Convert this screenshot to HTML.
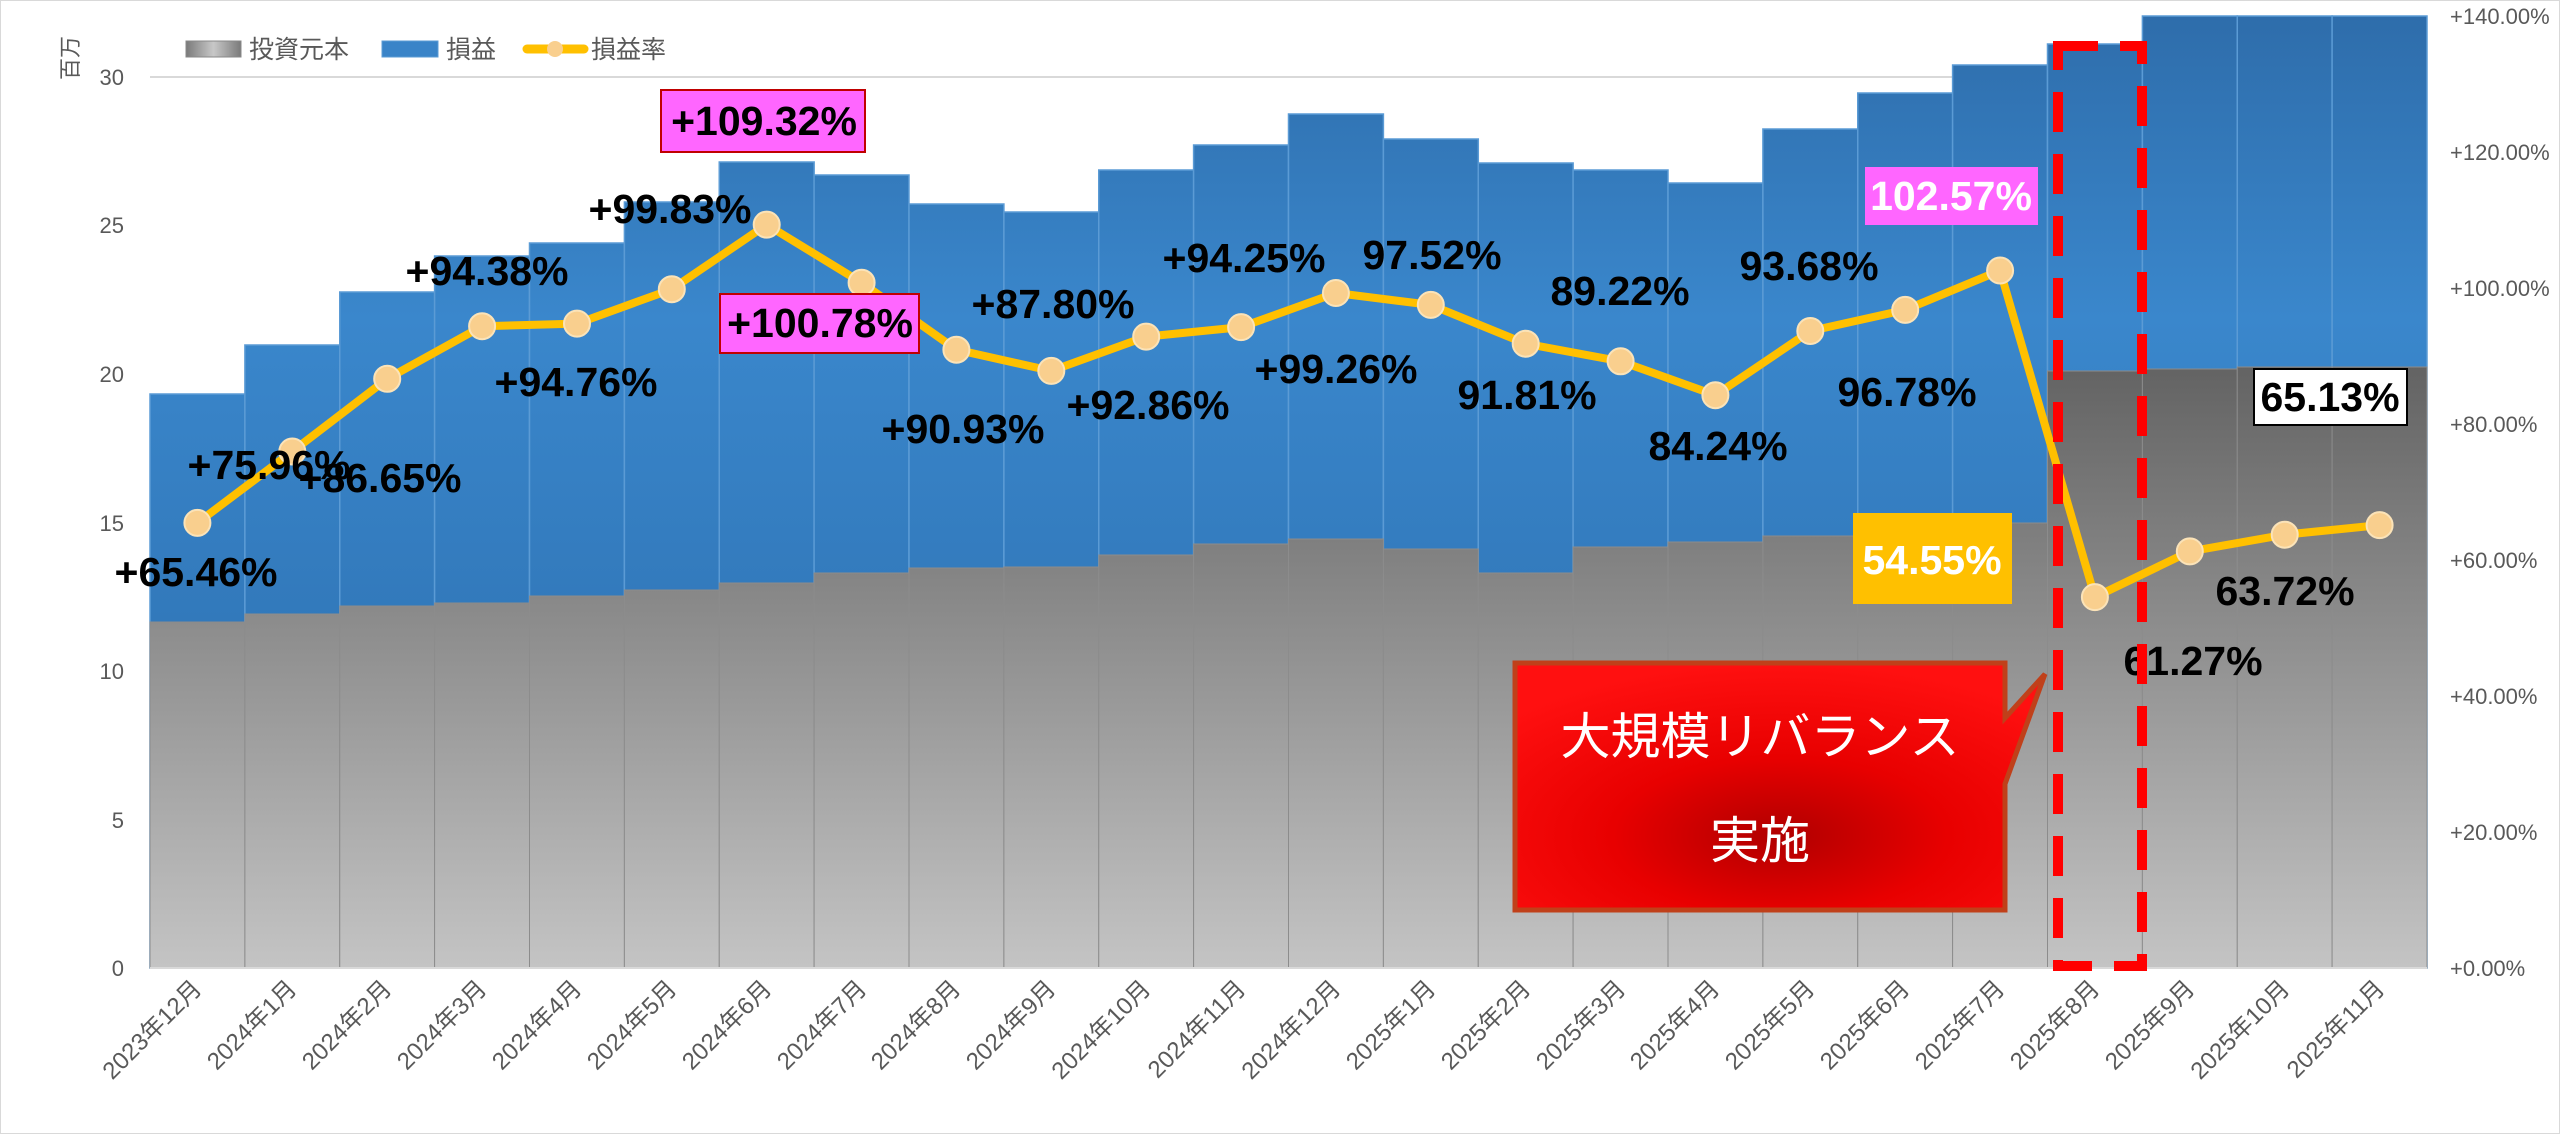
<!DOCTYPE html>
<html><head><meta charset="utf-8"><style>
html,body{margin:0;padding:0;background:#fff;}
svg{display:block;font-family:"Liberation Sans","Noto Sans CJK JP",sans-serif;}
.ax{font-size:22px;fill:#595959;}
.xl{font-size:24px;fill:#595959;}
.dl{font-size:41px;font-weight:bold;fill:#000;text-anchor:middle;dominant-baseline:central;}
</style></head><body>
<svg width="2560" height="1134" viewBox="0 0 2560 1134" xmlns="http://www.w3.org/2000/svg">
<defs>
<linearGradient id="gg" gradientUnits="userSpaceOnUse" x1="0" y1="360" x2="0" y2="968">
<stop offset="0" stop-color="#626262"/><stop offset="1" stop-color="#c4c4c4"/></linearGradient>
<linearGradient id="gl" x1="0" y1="0" x2="1" y2="0">
<stop offset="0" stop-color="#7a7a7a"/><stop offset="0.5" stop-color="#c8c8c8"/><stop offset="1" stop-color="#7a7a7a"/></linearGradient>
<linearGradient id="bg" gradientUnits="userSpaceOnUse" x1="0" y1="16" x2="0" y2="620">
<stop offset="0" stop-color="#2e6dab"/><stop offset="0.5" stop-color="#3a87cc"/><stop offset="1" stop-color="#3279bb"/></linearGradient>
<radialGradient id="rg" cx="0.5" cy="0.7" r="0.7">
<stop offset="0" stop-color="#b00000"/><stop offset="0.45" stop-color="#e80000"/><stop offset="1" stop-color="#ff1010"/></radialGradient>
</defs>
<rect x="0.5" y="0.5" width="2559" height="1133" fill="#fff" stroke="#d9d9d9"/>
<line x1="150" y1="77" x2="2427" y2="77" stroke="#d9d9d9" stroke-width="2"/>
<g fill="url(#bg)" stroke="#5b9bd5" stroke-width="1.5">
<rect x="150" y="394" width="94.9" height="574"/>
<rect x="244.9" y="345" width="94.9" height="623"/>
<rect x="339.75" y="292" width="94.9" height="676"/>
<rect x="434.6" y="256" width="94.9" height="712"/>
<rect x="529.5" y="243" width="94.9" height="725"/>
<rect x="624.4" y="202" width="94.9" height="766"/>
<rect x="719.25" y="162" width="94.9" height="806"/>
<rect x="814.1" y="175" width="94.9" height="793"/>
<rect x="909" y="204" width="94.9" height="764"/>
<rect x="1003.9" y="212" width="94.9" height="756"/>
<rect x="1098.75" y="170" width="94.9" height="798"/>
<rect x="1193.6" y="145" width="94.9" height="823"/>
<rect x="1288.5" y="114" width="94.9" height="854"/>
<rect x="1383.4" y="139" width="94.9" height="829"/>
<rect x="1478.25" y="163" width="94.9" height="805"/>
<rect x="1573.1" y="170" width="94.9" height="798"/>
<rect x="1668" y="183" width="94.9" height="785"/>
<rect x="1762.9" y="129" width="94.9" height="839"/>
<rect x="1857.75" y="93" width="94.9" height="875"/>
<rect x="1952.6" y="65" width="94.9" height="903"/>
<rect x="2047.5" y="44" width="94.9" height="924"/>
<rect x="2142.4" y="16" width="94.9" height="952"/>
<rect x="2237.25" y="16" width="94.9" height="952"/>
<rect x="2332.1" y="16" width="94.9" height="952"/>
</g>
<g fill="url(#gg)" stroke="#8c8c8c" stroke-width="1">
<rect x="150" y="622" width="94.9" height="346"/>
<rect x="244.9" y="614" width="94.9" height="354"/>
<rect x="339.75" y="606" width="94.9" height="362"/>
<rect x="434.6" y="603" width="94.9" height="365"/>
<rect x="529.5" y="596" width="94.9" height="372"/>
<rect x="624.4" y="590" width="94.9" height="378"/>
<rect x="719.25" y="583" width="94.9" height="385"/>
<rect x="814.1" y="573" width="94.9" height="395"/>
<rect x="909" y="568" width="94.9" height="400"/>
<rect x="1003.9" y="567" width="94.9" height="401"/>
<rect x="1098.75" y="555" width="94.9" height="413"/>
<rect x="1193.6" y="544" width="94.9" height="424"/>
<rect x="1288.5" y="539" width="94.9" height="429"/>
<rect x="1383.4" y="549" width="94.9" height="419"/>
<rect x="1478.25" y="573" width="94.9" height="395"/>
<rect x="1573.1" y="547" width="94.9" height="421"/>
<rect x="1668" y="542" width="94.9" height="426"/>
<rect x="1762.9" y="536" width="94.9" height="432"/>
<rect x="1857.75" y="527" width="94.9" height="441"/>
<rect x="1952.6" y="523" width="94.9" height="445"/>
<rect x="2047.5" y="371" width="94.9" height="597"/>
<rect x="2142.4" y="369" width="94.9" height="599"/>
<rect x="2237.25" y="367" width="94.9" height="601"/>
<rect x="2332.1" y="367" width="94.9" height="601"/>
</g>
<line x1="150" y1="968" x2="2427" y2="968" stroke="#d9d9d9" stroke-width="2"/>
<g class="ax" text-anchor="end">
<text x="124" y="976">0</text><text x="124" y="828">5</text><text x="124" y="679">10</text>
<text x="124" y="531">15</text><text x="124" y="382">20</text><text x="124" y="233">25</text><text x="124" y="85">30</text>
</g>
<text class="ax" transform="translate(78,58) rotate(-90)" text-anchor="middle" font-size="24">百万</text>
<g class="ax" text-anchor="start">
<text x="2450" y="976">+0.00%</text><text x="2450" y="840">+20.00%</text><text x="2450" y="704">+40.00%</text>
<text x="2450" y="568">+60.00%</text><text x="2450" y="432">+80.00%</text><text x="2450" y="296">+100.00%</text>
<text x="2450" y="160">+120.00%</text><text x="2450" y="24">+140.00%</text>
</g>
<g class="xl" text-anchor="end">
<text transform="translate(203,990) rotate(-45)">2023年12月</text>
<text transform="translate(298,990) rotate(-45)">2024年1月</text>
<text transform="translate(393,990) rotate(-45)">2024年2月</text>
<text transform="translate(488,990) rotate(-45)">2024年3月</text>
<text transform="translate(583,990) rotate(-45)">2024年4月</text>
<text transform="translate(678,990) rotate(-45)">2024年5月</text>
<text transform="translate(773,990) rotate(-45)">2024年6月</text>
<text transform="translate(868,990) rotate(-45)">2024年7月</text>
<text transform="translate(962,990) rotate(-45)">2024年8月</text>
<text transform="translate(1057,990) rotate(-45)">2024年9月</text>
<text transform="translate(1152,990) rotate(-45)">2024年10月</text>
<text transform="translate(1247,990) rotate(-45)">2024年11月</text>
<text transform="translate(1342,990) rotate(-45)">2024年12月</text>
<text transform="translate(1437,990) rotate(-45)">2025年1月</text>
<text transform="translate(1532,990) rotate(-45)">2025年2月</text>
<text transform="translate(1627,990) rotate(-45)">2025年3月</text>
<text transform="translate(1721,990) rotate(-45)">2025年4月</text>
<text transform="translate(1816,990) rotate(-45)">2025年5月</text>
<text transform="translate(1911,990) rotate(-45)">2025年6月</text>
<text transform="translate(2006,990) rotate(-45)">2025年7月</text>
<text transform="translate(2101,990) rotate(-45)">2025年8月</text>
<text transform="translate(2196,990) rotate(-45)">2025年9月</text>
<text transform="translate(2291,990) rotate(-45)">2025年10月</text>
<text transform="translate(2386,990) rotate(-45)">2025年11月</text>
</g>
<rect x="186" y="41" width="55" height="16" fill="url(#gl)" stroke="#888"/>
<text x="249" y="58" font-size="25" fill="#595959">投資元本</text>
<rect x="382" y="41" width="56" height="16" fill="#3a84c8" stroke="#5b9bd5"/>
<text x="446" y="58" font-size="25" fill="#595959">損益</text>
<line x1="527" y1="49" x2="584" y2="49" stroke="#ffc000" stroke-width="9" stroke-linecap="round"/>
<circle cx="555" cy="49" r="8" fill="#f9cf8e"/>
<text x="591" y="58" font-size="25" fill="#595959">損益率</text>
<polyline fill="none" stroke="#ffc000" stroke-width="8" stroke-linejoin="round" points="197.4,522.9 292.3,451.5 387.2,378.8 482.1,326.2 577,323.6 671.8,289.2 766.7,224.6 861.6,282.7 956.4,349.7 1051.3,370.9 1146.2,336.6 1241.1,327.1 1335.9,293 1430.8,304.9 1525.7,343.7 1620.6,361.3 1715.4,395.2 1810.3,331 1905.2,309.9 2000.1,270.5 2094.9,597.1 2189.8,551.4 2284.7,534.7 2379.6,525.1"/>
<g fill="#f9cf8e" stroke="#fbe3b8" stroke-width="2">
<circle cx="197.4" cy="522.9" r="13"/><circle cx="292.3" cy="451.5" r="13"/><circle cx="387.2" cy="378.8" r="13"/>
<circle cx="482.1" cy="326.2" r="13"/><circle cx="577" cy="323.6" r="13"/><circle cx="671.8" cy="289.2" r="13"/>
<circle cx="766.7" cy="224.6" r="13"/><circle cx="861.6" cy="282.7" r="13"/><circle cx="956.4" cy="349.7" r="13"/>
<circle cx="1051.3" cy="370.9" r="13"/><circle cx="1146.2" cy="336.6" r="13"/><circle cx="1241.1" cy="327.1" r="13"/>
<circle cx="1335.9" cy="293" r="13"/><circle cx="1430.8" cy="304.9" r="13"/><circle cx="1525.7" cy="343.7" r="13"/>
<circle cx="1620.6" cy="361.3" r="13"/><circle cx="1715.4" cy="395.2" r="13"/><circle cx="1810.3" cy="331" r="13"/>
<circle cx="1905.2" cy="309.9" r="13"/><circle cx="2000.1" cy="270.5" r="13"/><circle cx="2094.9" cy="597.1" r="13"/>
<circle cx="2189.8" cy="551.4" r="13"/><circle cx="2284.7" cy="534.7" r="13"/><circle cx="2379.6" cy="525.1" r="13"/>
</g>
<rect x="661" y="90" width="204" height="62" fill="#ff66ff" stroke="#c00000" stroke-width="2"/>
<rect x="720" y="294" width="199" height="59" fill="#ff66ff" stroke="#c00000" stroke-width="2"/>
<rect x="1865" y="167" width="173" height="58" fill="#ff66ff"/>
<rect x="1853" y="513" width="159" height="91" fill="#ffc000"/>
<rect x="2254" y="369" width="153" height="56" fill="#fff" stroke="#000" stroke-width="2"/>
<text class="dl" x="196" y="572">+65.46%</text>
<text class="dl" x="269" y="465">+75.96%</text>
<text class="dl" x="380" y="478">+86.65%</text>
<text class="dl" x="487" y="271">+94.38%</text>
<text class="dl" x="576" y="382">+94.76%</text>
<text class="dl" x="670" y="209">+99.83%</text>
<text class="dl" x="764" y="121">+109.32%</text>
<text class="dl" x="820" y="323">+100.78%</text>
<text class="dl" x="963" y="429">+90.93%</text>
<text class="dl" x="1053" y="304">+87.80%</text>
<text class="dl" x="1148" y="405">+92.86%</text>
<text class="dl" x="1244" y="258">+94.25%</text>
<text class="dl" x="1336" y="369">+99.26%</text>
<text class="dl" x="1432" y="255">97.52%</text>
<text class="dl" x="1527" y="395">91.81%</text>
<text class="dl" x="1620" y="291">89.22%</text>
<text class="dl" x="1718" y="446">84.24%</text>
<text class="dl" x="1809" y="266">93.68%</text>
<text class="dl" x="1907" y="392">96.78%</text>
<text class="dl" x="1951" y="196" style="fill:#fff">102.57%</text>
<text class="dl" x="1932" y="560" style="fill:#fff">54.55%</text>
<text class="dl" x="2193" y="661">61.27%</text>
<text class="dl" x="2285" y="591">63.72%</text>
<text class="dl" x="2330" y="397">65.13%</text>
<path d="M1515,663 L2005,663 L2005,718 L2045,674 L2005,784 L2005,910 L1515,910 Z" fill="url(#rg)" stroke="#c0401a" stroke-width="5"/>
<text x="1760" y="754" font-size="50" fill="#fff" text-anchor="middle">大規模リバランス</text>
<text x="1760" y="858" font-size="50" fill="#fff" text-anchor="middle">実施</text>
<rect x="2058" y="46" width="84" height="920" fill="none" stroke="#ff0000" stroke-width="10" stroke-dasharray="40,22"/>
</svg>
</body></html>
